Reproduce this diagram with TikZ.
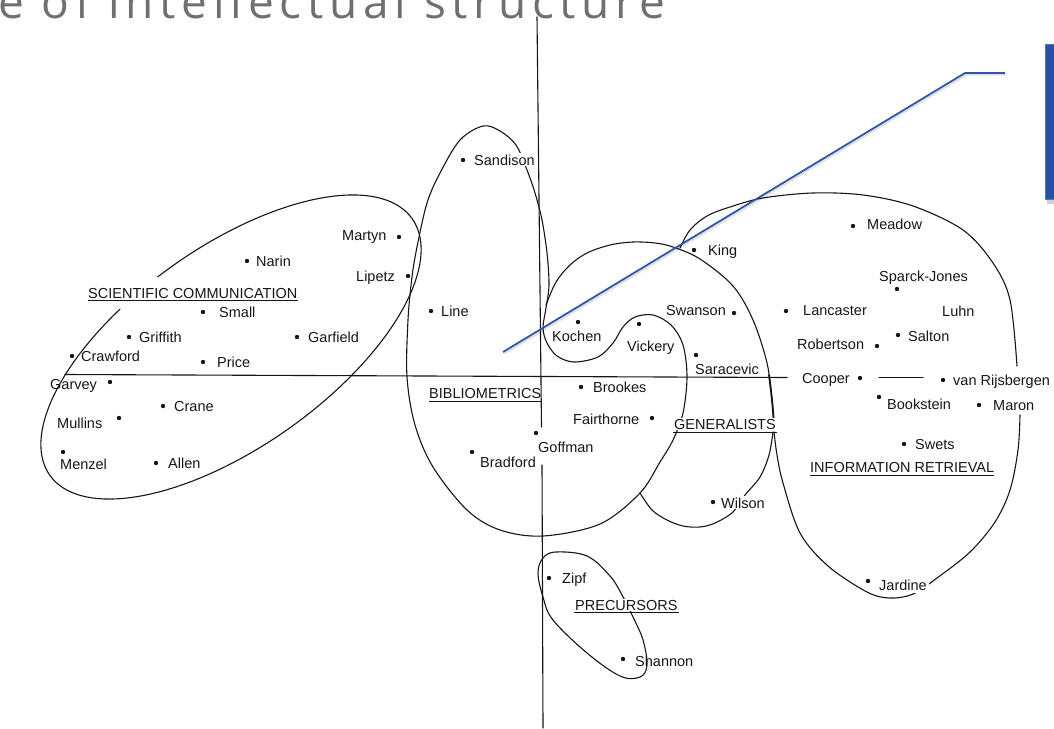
\documentclass[tikz,border=0pt]{standalone}
\usepackage{fontspec}
\setmainfont{Liberation Sans}
\newfontfamily\titlesans[LetterSpace=12.5]{Open Sans}
\definecolor{titlegray}{RGB}{112,112,112}
\definecolor{annoblue}{RGB}{48,86,170}
\definecolor{boxblue}{RGB}{40,80,166}
\definecolor{boxedge}{RGB}{80,118,192}
\definecolor{inkc}{RGB}{22,22,22}
\begin{document}
\begin{tikzpicture}[x=1pt,y=-1pt,
  ink/.style={draw=inkc, line width=1.1pt, line join=round, line cap=round},
  dot/.style={circle, fill=inkc, inner sep=0pt, minimum size=4.4pt},
  lbl/.style={font=\fontsize{14.5}{16}\selectfont, text=inkc, inner sep=0pt, anchor=base west},
  cover/.style={lbl, fill=white, inner sep=1.2pt},
  uline/.style={draw=inkc, line width=0.9pt}]
\useasboundingbox (0,0) rectangle (1054,728);
\clip (0,0) rectangle (1054,728);

% title
\node[anchor=base west, inner sep=0pt, font=\titlesans\fontsize{46}{50}\selectfont, text=titlegray] (title) at (-2,18) {e of intellectual structure};

% axes
\draw[ink] (65,374.5) -- (787,377.5);
\draw[ink] (879,377.5) -- (923,377.5);
\draw[ink] (537,17) -- (541.5,427);
\draw[ink] (542,465) -- (543,728);

% scientific communication ellipse (with a gap near its label)
\draw[ink] plot[domain=108:455, samples=140, variable=\t]
  ({231 + 222*cos(\t)*0.816 - 100*sin(\t)*0.578}, {347 - (222*cos(\t)*0.578 + 100*sin(\t)*0.816)});

% bibliometrics outline
\draw[ink] plot[smooth cycle, tension=0.55] coordinates {
 (483,126) (500,131) (516,145) (527,170) (535,193) (542,220) (547,253) (549,285)
 (546,308) (543,328) (547,343) (557,356) (574,362) (598,357) (613,343) (623,327)
 (635,317) (653,315) (671,325) (683,345) (687,377) (683,413) (673,440) (660,462)
 (640,493) (600,524) (543,536) (500,530) (467,510) (433,467) (415,425) (407,377)
 (408,320) (412,277) (417,247) (427,203) (440,173) (460,140)};

% generalists arc
\draw[ink] plot[smooth, tension=0.55] coordinates {
 (546,305) (556,282) (570,265) (587,253) (610,245) (633,242) (655,243) (673,247)
 (700,259) (733,286) (753,320) (767,363) (772,400) (774,424)};
\draw[ink, line width=1.8pt] plot[smooth] coordinates {(769,375) (772,400) (774,424)};

% wilson lobe
\draw[ink] plot[smooth, tension=0.55] coordinates {
 (773,432) (769,455) (760,477) (745,495) (733,512) (715,523) (700,527) (683,526)
 (667,520) (652,510) (640,493)};

% information retrieval outline
\draw[ink] plot[smooth, tension=0.55] coordinates {
 (774,432) (777,455) (783,483) (800,533) (828,566) (867,592) (890,598) (913,594)
 (937,578) (970,552) (995,522) (1010,490) (1018,450) (1020,415)};
\draw[ink] plot[smooth, tension=0.55] coordinates {
 (1017,366) (1010,300) (993,263) (963,230) (913,206) (863,195) (813,193) (763,198)
 (730,207) (707,216) (690,230) (680,248)};

% precursors loop
\draw[ink] plot[smooth cycle, tension=0.6] coordinates {
 (538,573) (543,558) (556,552) (587,556) (610,576) (622,595) (633,617) (643,640)
 (647,665) (640,677) (620,676) (587,653) (553,620) (543,597)};

% ---- labels ----
\node[lbl] (scicom) at (88,298) {SCIENTIFIC COMMUNICATION};
\draw[uline] ([yshift=-2.5pt]scicom.base west) -- ([yshift=-2.5pt]scicom.base east);
\node[lbl] (biblio) at (429,398) {BIBLIOMETRICS};
\draw[uline] ([yshift=-3pt]biblio.base west) -- ([yshift=-3pt]biblio.base east);
\node[cover] (general) at (672.8,429) {GENERALISTS};
\draw[uline] ([yshift=-3pt]general.base west) -- ([yshift=-3pt]general.base east);
\node[lbl] (inforet) at (810,472) {INFORMATION RETRIEVAL};
\draw[uline] ([yshift=-3pt]inforet.base west) -- ([yshift=-3pt]inforet.base east);
\node[cover] (precur) at (573.8,610) {PRECURSORS};
\draw[uline] ([yshift=-2.5pt]precur.base west) -- ([yshift=-2.5pt]precur.base east);

% scientific communication authors
\node[dot] (dMartyn) at (399,237) {};   \node[lbl] (Martyn) at (342,240) {Martyn};
\node[dot] (dNarin) at (247,261) {};    \node[lbl] (Narin) at (256,266) {Narin};
\node[dot] (dLipetz) at (408,276) {};   \node[lbl] (Lipetz) at (356,281) {Lipetz};
\node[dot] (dSmall) at (203,312) {};    \node[lbl] (Small) at (219,317) {Small};
\node[dot] (dGriffith) at (129,337) {}; \node[lbl] (Griffith) at (139,342) {Griffith};
\node[dot] (dGarfield) at (297,337) {}; \node[lbl] (Garfield) at (308,342) {Garfield};
\node[dot] (dCrawford) at (72,356) {};  \node[lbl] (Crawford) at (81,361) {Crawford};
\node[dot] (dPrice) at (203,362) {};    \node[lbl] (Price) at (217,367) {Price};
\node[dot] (dGarvey) at (110,382) {};   \node[lbl] (Garvey) at (50,389) {Garvey};
\node[dot] (dCrane) at (163,406) {};    \node[lbl] (Crane) at (174,411) {Crane};
\node[dot] (dMullins) at (119,418) {};  \node[lbl] (Mullins) at (57,428) {Mullins};
\node[dot] (dMenzel) at (63,452) {};    \node[lbl] (Menzel) at (60,469) {Menzel};
\node[dot] (dAllen) at (156,463) {};    \node[lbl] (Allen) at (168,468) {Allen};

% middle authors
\node[dot] (dSandison) at (463,160) {}; \node[cover] (Sandison) at (472.8,165) {Sandison};
\node[dot] (dKing) at (694,250) {};     \node[lbl] (King) at (708,255) {King};
\node[dot] (dLine) at (431,311) {};     \node[lbl] (Line) at (441,316) {Line};
\node[dot] (dSwanson) at (734,313) {};  \node[lbl] (Swanson) at (666,315) {Swanson};
\node[dot] (dKochen) at (578,322) {};   \node[lbl] (Kochen) at (552,341) {Kochen};
\node[dot] (dVickery) at (639,324) {};  \node[lbl] (Vickery) at (627,351) {Vickery};
\node[dot] (dSaracevic) at (696,355) {};\node[lbl] (Saracevic) at (695,374) {Saracevic};
\node[dot] (dBrookes) at (581,387) {};  \node[lbl] (Brookes) at (593,392) {Brookes};
\node[dot] (dFairthorne) at (652,418) {};\node[lbl] (Fairthorne) at (573,424) {Fairthorne};
\node[dot] (dGoffman) at (536,433) {};  \node[lbl] (Goffman) at (538,452) {Goffman};
\node[dot] (dBradford) at (472,452) {}; \node[lbl] (Bradford) at (480,467) {Bradford};
\node[dot] (dWilson) at (713,502) {};   \node[cover] (Wilson) at (719.8,508) {Wilson};

% information retrieval authors
\node[dot] (dMeadow) at (853,226) {};   \node[lbl] (Meadow) at (867,229) {Meadow};
\node[dot] (dSparck) at (897,289) {};   \node[lbl] (Sparck) at (879,281) {Sparck-Jones};
\node[dot] (dLancaster) at (786,311) {};\node[lbl] (Lancaster) at (803,315) {Lancaster};
\node[lbl] (Luhn) at (942,316) {Luhn};
\node[dot] (dSalton) at (898,335) {};   \node[lbl] (Salton) at (908,341) {Salton};
\node[dot] (dRobertson) at (877,346) {};\node[lbl] (Robertson) at (797,349) {Robertson};
\node[dot] (dCooper) at (860,378) {};   \node[lbl] (Cooper) at (802,383) {Cooper};
\node[dot] (dRijsbergen) at (943,380) {};\node[cover] (Rijsbergen) at (951.8,385) {van Rijsbergen};
\node[dot] (dBookstein) at (879,397) {};\node[lbl] (Bookstein) at (887,409) {Bookstein};
\node[dot] (dMaron) at (979,405) {};    \node[cover] (Maron) at (991.8,410) {Maron};
\node[dot] (dSwets) at (904,444) {};    \node[lbl] (Swets) at (915,449) {Swets};
\node[dot] (dJardine) at (868,581) {};  \node[cover, inner sep=2.5pt] (Jardine) at (876.5,590) {Jardine};

% precursors authors
\node[dot] (dZipf) at (549,578) {};     \node[lbl] (Zipf) at (562,583) {Zipf};
\node[dot] (dShannon) at (623,659) {};  \node[lbl] (Shannon) at (635,666) {Shannon};

% blue annotation
\node[anchor=north west, fill=black, opacity=0.18, minimum width=16pt, minimum height=157pt, inner sep=0pt] (boxshadow) at (1047,47) {};
\node[anchor=north west, fill=boxblue, draw=boxedge, line width=1pt, minimum width=16pt, minimum height=155pt, inner sep=0pt] (bluebox) at (1045,44) {};
\coordinate (a0) at (503,352);
\coordinate (a1) at (965,73);
\coordinate (a2) at (1005,73);
\draw[black, opacity=0.12, line width=2pt] ([shift={(1.5,1.5)}]a0) -- ([shift={(1.5,1.5)}]a1) -- ([shift={(1.5,1.5)}]a2);
\draw[annoblue, line width=1.8pt] (a0) -- (a1) -- (a2);
\end{tikzpicture}
\end{document}
